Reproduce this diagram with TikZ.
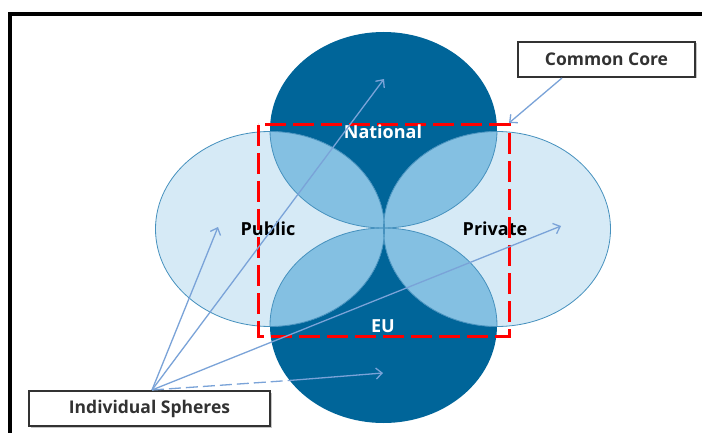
\documentclass[tikz,border=0pt]{standalone}
\usepackage{fontspec}
\setmainfont{Open Sans}
\usetikzlibrary{arrows.meta,calc}
\definecolor{darkb}{RGB}{0,101,153}
\definecolor{lightb}{RGB}{214,234,246}
\definecolor{midb}{RGB}{132,192,226}
\definecolor{edgeb}{RGB}{70,145,190}
\definecolor{arrowc}{RGB}{122,163,216}
\definecolor{boxgray}{RGB}{50,50,50}
\tikzset{
  natE/.style={insert path={(383.5,130) ellipse [x radius=113.5,y radius=98]}},
  euE/.style={insert path={(383.5,325.5) ellipse [x radius=113.5,y radius=97.5]}},
  pubE/.style={insert path={(270,229) ellipse [x radius=114.5,y radius=97.5]}},
  priE/.style={insert path={(497,229) ellipse [x radius=113.5,y radius=97.5]}},
  lbl/.style={font=\bfseries\fontsize{18}{20}\selectfont, inner sep=0pt},
  labelbox/.style={draw=boxgray, line width=2pt, fill=white, text=boxgray,
    font=\bfseries\fontsize{17.5}{19}\selectfont, inner sep=0pt},
  arr/.style={draw=arrowc, line width=1.3pt, -{Straight Barb[length=6pt,width=11pt]}},
  arrline/.style={draw=arrowc, line width=1.3pt}
}
\begin{document}
\begin{tikzpicture}[x=1pt,y=-1pt]
\useasboundingbox (0,0) rectangle (702,433);
\fill[white] (0,0) rectangle (702,433);
% frame
\draw[line width=4pt] (10,433) -- (10,14) -- (702,14);
% dark ellipses
\fill[darkb, natE];
\fill[darkb, euE];
% light ellipses
\fill[lightb, pubE];
\fill[lightb, priE];
% overlaps
\begin{scope}
  \clip[natE];
  \fill[midb, pubE];
  \fill[midb, priE];
\end{scope}
\begin{scope}
  \clip[euE];
  \fill[midb, pubE];
  \fill[midb, priE];
\end{scope}
% outlines
\draw[edgeb, line width=0.8pt, pubE];
\draw[edgeb, line width=0.8pt, priE];
\begin{scope}
  \clip[pubE];
  \draw[edgeb, line width=0.8pt, natE];
  \draw[edgeb, line width=0.8pt, euE];
\end{scope}
\begin{scope}
  \clip[priE];
  \draw[edgeb, line width=0.8pt, natE];
  \draw[edgeb, line width=0.8pt, euE];
\end{scope}
% side labels
\node[lbl, text=black] (pub) at (268,229) {Public};
\node[lbl, text=black] (pri) at (495,229) {Private};
% red common core
\draw[red, line width=3pt, dash pattern=on 21pt off 7pt] (258,125) rectangle (509,336);
% top and bottom labels
\node[lbl, text=white] (nat) at (383,132) {National};
\node[lbl, text=white] (eu) at (383,326) {EU};
% boxes
\fill[gray!45] (519.5,43.5) rectangle (696.5,78.5);
\fill[gray!45] (30.5,392.5) rectangle (271.5,427.5);
\node[labelbox, minimum width=177pt, minimum height=35pt] (cc) at (606.5,59.5) {Common Core};
\node[labelbox, minimum width=241pt, minimum height=35pt] (sph) at (149.5,408.5) {Individual Spheres};
% targets
\coordinate (ccStart) at ($(cc.south)+(-44.5,0)$);
\coordinate (corner) at (509,123);
\coordinate (tPub) at (218,227);
\coordinate (tNat) at (384,79);
\coordinate (tPri) at (561,226);
\coordinate (euEdge) at (289,380.5);
\coordinate (tEU) at (383,373);
\coordinate (fan) at ($(sph.north)+(2.5,0)$);
% arrows
\draw[arr] (ccStart) -- (corner);
\draw[arr] (fan) -- (tPub);
\draw[arr] (fan) -- (tNat);
\draw[arr] (fan) -- (tPri);
\draw[arrline, dash pattern=on 12pt off 5pt] (fan) -- (euEdge);
\draw[arr] (euEdge) -- (tEU);
\end{tikzpicture}
\end{document}
